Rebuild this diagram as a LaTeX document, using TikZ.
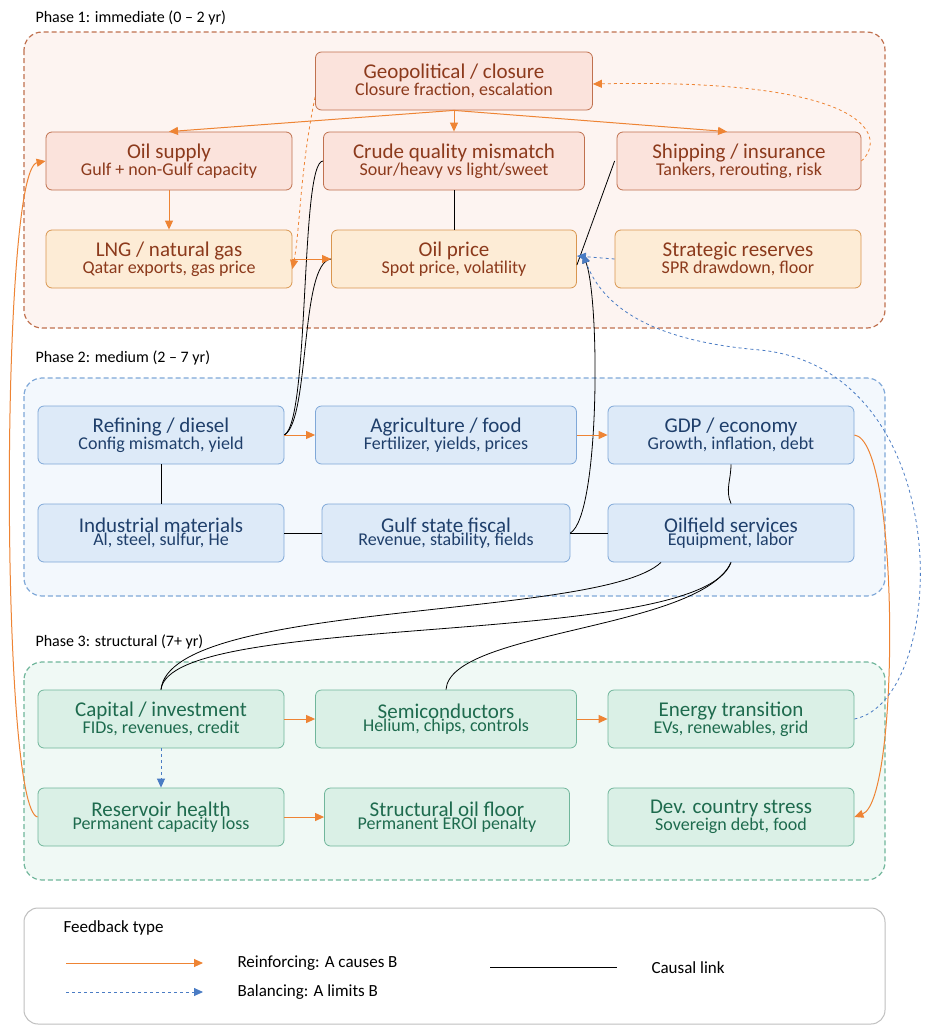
\documentclass[tikz,border=0pt]{standalone}
\usepackage{fontspec}
\setmainfont{Carlito}
\usetikzlibrary{arrows.meta}
\definecolor{redfill}{HTML}{FBE3DC}
\definecolor{redline}{HTML}{C0714F}
\definecolor{redtext}{HTML}{8C3A1C}
\definecolor{orfill}{HTML}{FDECD6}
\definecolor{orline}{HTML}{D9964F}
\definecolor{bluefill}{HTML}{DDEAF8}
\definecolor{blueline}{HTML}{7FA8D8}
\definecolor{bluetext}{HTML}{1F3F6B}
\definecolor{grfill}{HTML}{DAF0E6}
\definecolor{grline}{HTML}{70B69B}
\definecolor{grtext}{HTML}{1E6B4E}
\definecolor{reinf}{HTML}{EE8434}
\definecolor{bal}{HTML}{4A7CC4}
\newcommand{\TwoLine}[2]{\fontsize{21}{27}\selectfont #1\\\fontsize{18}{27}\selectfont #2}
\tikzset{
  box/.style={draw,rounded corners=6pt,thick,align=center,minimum height=58pt,inner sep=2pt},
  redbox/.style={box,fill=redfill,draw=redline,text=redtext},
  orbox/.style={box,fill=orfill,draw=orline,text=redtext},
  bluebox/.style={box,fill=bluefill,draw=blueline,text=bluetext},
  greenbox/.style={box,fill=grfill,draw=grline,text=grtext},
  phase/.style={rounded corners=18pt,dash pattern=on 5pt off 3pt,line width=1.2pt},
  phaselabel/.style={anchor=west,font=\fontsize{16}{19}\selectfont},
  legendtext/.style={anchor=west,font=\fontsize{17}{20}\selectfont},
  reinforce/.style={reinf,line width=1pt,-{Triangle[length=9pt,width=8pt]}},
  balance/.style={bal,dashed,line width=0.8pt,-{Triangle[length=9pt,width=8pt]}},
  causal/.style={black,line width=0.8pt}
}
\begin{document}
\begin{tikzpicture}[x=1pt,y=-1pt]
\useasboundingbox[fill=white] (0,0) rectangle (931,1026);
% phases
\draw[phase,draw=redline,fill=redfill!40] (24,32) rectangle (885,328);
\draw[phase,draw=blueline,fill=bluefill!35] (24,378) rectangle (885,596);
\draw[phase,draw=grline,fill=grfill!40] (24,662) rectangle (885,880);
\node[phaselabel] (ph1) at (32,18) {Phase 1: immediate (0 – 2 yr)};
\node[phaselabel] (ph2) at (32,358) {Phase 2: medium (2 – 7 yr)};
\node[phaselabel] (ph3) at (32,642) {Phase 3: structural (7+ yr)};
%-------------
\node[redbox,minimum width=277pt] (geo) at (454,81) {\TwoLine{Geopolitical / closure}{Closure fraction, escalation}};
\node[redbox,minimum width=246pt] (supply) at (169,161) {\TwoLine{Oil supply}{Gulf + non-Gulf capacity}};
\node[redbox,minimum width=261pt] (crude) at (454,161) {\TwoLine{Crude quality mismatch}{Sour/heavy vs light/sweet}};
\node[redbox,minimum width=244pt] (ship) at (739,161) {\TwoLine{Shipping / insurance}{Tankers, rerouting, risk}};
\node[orbox,minimum width=246pt] (lng) at (169,259) {\TwoLine{LNG / natural gas}{Qatar exports, gas price}};
\node[orbox,minimum width=245pt] (price) at (454,259) {\TwoLine{Oil price}{Spot price, volatility}};
\node[orbox,minimum width=246pt] (spr) at (738,259) {\TwoLine{Strategic reserves}{SPR drawdown, floor}};
%-------------
\node[bluebox,minimum width=246pt] (refine) at (161,435) {\TwoLine{Refining / diesel}{Config mismatch, yield}};
\node[bluebox,minimum width=261pt] (agri) at (446,435) {\TwoLine{Agriculture / food}{Fertilizer, yields, prices}};
\node[bluebox,minimum width=246pt] (gdp) at (731,435) {\TwoLine{GDP / economy}{Growth, inflation, debt}};
\node[bluebox,minimum width=246pt] (indus) at (161,533) {\TwoLine{Industrial materials}{Al, steel, sulfur, He}};
\node[bluebox,minimum width=248pt] (fiscal) at (446,533) {\TwoLine{Gulf state fiscal}{Revenue, stability, fields}};
\node[bluebox,minimum width=246pt] (oilfield) at (731,533) {\TwoLine{Oilfield services}{Equipment, labor}};
%-------------
\node[greenbox,minimum width=246pt] (capital) at (161,719) {\TwoLine{Capital / investment}{FIDs, revenues, credit}};
\node[greenbox,minimum width=261pt] (semi) at (446,719) {\TwoLine{Semiconductors}{Helium, chips, controls}};
\node[greenbox,minimum width=246pt] (energy) at (731,719) {\TwoLine{Energy transition}{EVs, renewables, grid}};
\node[greenbox,minimum width=246pt] (reservoir) at (161,817) {\TwoLine{Reservoir health}{Permanent capacity loss}};
\node[greenbox,minimum width=245pt] (floor) at (447,817) {\TwoLine{Structural oil floor}{Permanent EROI penalty}};
\node[greenbox,minimum width=246pt] (devcountry) at (731,817) {\TwoLine{Dev. country stress}{Sovereign debt, food}};
%-------------
\draw[causal] (crude.south) -- (price.north);
\draw[causal] (crude.west) .. controls (300,161) and (310,420) .. (refine.east);
\draw[causal] (price.west) .. controls (300,262) and (310,420) .. (refine.east);
\draw[causal] ([xshift=-2pt]ship.west) -- ([yshift=-6pt]price.east);
\draw[causal,-{Triangle[length=9pt,width=7pt]}] (fiscal.east) .. controls (600,515) and (600,300) .. ([xshift=6pt,yshift=5pt]price.east);
\draw[causal] (refine.south) -- (indus.north);
\draw[causal] (indus.east) -- (fiscal.west);
\draw[causal] (fiscal.east) -- (oilfield.west);
\draw[causal] (gdp.south) .. controls (731,480) and (725,490) .. (oilfield.north);
\draw[causal] ([xshift=-70pt]oilfield.south) .. controls (600,620) and (170,600) .. (capital.north);
\draw[causal] (oilfield.south) .. controls (700,650) and (170,610) .. (capital.north);
\draw[causal] (oilfield.south) .. controls (700,630) and (450,630) .. (semi.north);
\foreach \from/\to in {supply/lng,refine/agri,agri/gdp,capital/semi,semi/energy,reservoir/floor}
\draw[reinforce] (\from) -- (\to);
\draw[reinforce] (geo.south) -- (supply.north);
\draw[reinforce] (geo.south) -- (crude.north);
\draw[reinforce] (geo.south) -- ([xshift=-12pt]ship.north);
\draw[reinforce] (lng.east) -- (price.west);
\draw[reinforce] (gdp.east) .. controls (900,440) and (900,800) .. (devcountry.east);
\draw[reinforce] (reservoir.west) .. controls (0,810) and (0,170) .. (supply.west);
\draw[reinforce,dashed,line width=0.8pt] ([yshift=-16pt]geo.west) .. controls (300,170) and (300,230) .. ([yshift=-10pt]lng.east);
\draw[reinforce,dashed,line width=0.8pt] (ship.east) .. controls (885,140) and (880,78) .. ([yshift=-3pt]geo.east);
\draw[balance] (spr.west) -- ([yshift=3pt]price.east);
\draw[balance] (capital.south) -- (reservoir.north);
\draw[balance] (energy.east) .. controls (950,700) and (960,370) .. (760,350) .. controls (640,340) and (600,300) .. ([xshift=6pt,yshift=5pt]price.east);
%-------------
\draw[rounded corners=14pt,draw=black!25,line width=1pt] (24,908) rectangle (885,1024);
\node[legendtext] (legtitle) at (60,928) {Feedback type};
\coordinate (r1) at (66,963); \coordinate (r2) at (203,963);
\coordinate (b1) at (66,992); \coordinate (b2) at (203,992);
\coordinate (c1) at (490,967); \coordinate (c2) at (617,967);
\draw[reinforce] (r1) -- (r2);
\draw[balance] (b1) -- (b2);
\draw[causal] (c1) -- (c2);
\node[legendtext] (legr) at (234,963) {Reinforcing: A causes B};
\node[legendtext] (legb) at (234,992) {Balancing: A limits B};
\node[legendtext] (legc) at (648,968) {Causal link};
\end{tikzpicture}
\end{document}
